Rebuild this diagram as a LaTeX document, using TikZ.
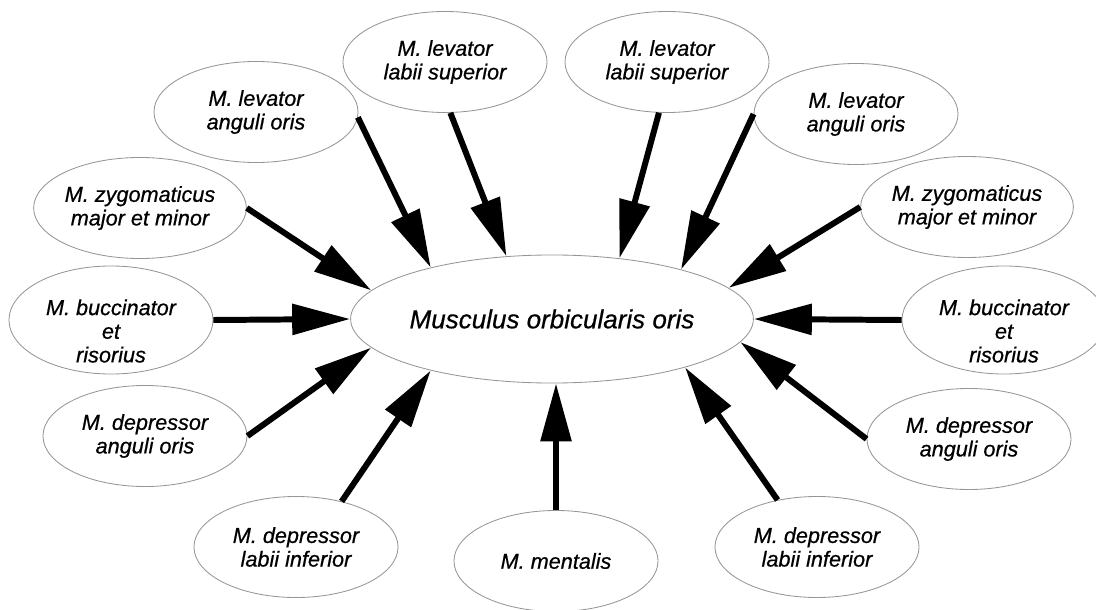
\documentclass[tikz,border=0pt]{standalone}
\usepackage{fontspec}
\setmainfont{Liberation Sans}[ItalicFeatures={FakeBold=0.6}]
\usetikzlibrary{shapes.geometric,arrows.meta}
\definecolor{elgray}{RGB}{150,150,150}
\begin{document}
\begin{tikzpicture}[x=0.025cm,y=-0.025cm,
  outer/.style={ellipse, draw=elgray, line width=0.6pt, fill=white,
    minimum width=5.1cm, minimum height=2.525cm, inner sep=0pt, align=center,
    font=\fontsize{15.4}{16.8}\selectfont\itshape},
  lbl/.style={inner sep=0pt, align=center, font=\fontsize{15.4}{16.8}\selectfont\itshape},
  central/.style={ellipse, draw=elgray, line width=0.6pt, fill=white,
    minimum width=9.65cm, minimum height=3.2cm, inner sep=0pt,
    font=\fontsize{18.5}{22}\selectfont\itshape},
  arr/.style={line width=4.25pt, -{Triangle[length=1.45cm,width=0.75cm]}}]
\useasboundingbox (0,0) rectangle (1096,610);

\node[central] (cen) at (552,319) {Musculus orbicularis oris};

\node[outer] (lsl) at (445,62) {M. levator\\labii superior};
\node[outer] (lal) at (256,112) {M. levator\\anguli oris};
\node[outer] (zyl) at (140,208) {M. zygomaticus\\major et minor};
\node[outer, minimum height=2.7cm] (bul) at (111,320) {};
\node[lbl] (bult) at (111,331) {M. buccinator\\et\\risorius};
\node[outer] (dal) at (145,436) {M. depressor\\anguli oris};
\node[outer] (dil) at (296,547) {M. depressor\\labii inferior};
\node[outer] (men) at (556,561) {M. mentalis};
\node[outer] (dir) at (817,547) {M. depressor\\labii inferior};
\node[outer] (dar) at (969,439) {M. depressor\\anguli oris};
\node[outer, minimum height=2.7cm] (bur) at (1004,320) {};
\node[lbl] (burt) at (1004,331) {M. buccinator\\et\\risorius};
\node[outer] (zyr) at (967,207) {M. zygomaticus\\major et minor};
\node[outer] (lar) at (856,114) {M. levator\\anguli oris};
\node[outer] (lsr) at (667,62) {M. levator\\labii superior};

\draw[arr] (lsl.-84) -- (cen.126.6);
\draw[arr] (lal.-3) -- (cen.157.5);
\draw[arr] (zyl.0) -- (cen.171.5);
\draw[arr] (bul.0) -- (cen.180);
\draw[arr] (dal.0) -- (cen.189.5);
\draw[arr] (dil.45) -- (cen.203.6);
\draw[arr] (men.north) -- (men.north |- cen.south);
\draw[arr] (dir.130.6) -- (cen.340.8);
\draw[arr] (dar.180) -- (cen.353.6);
\draw[arr] (bur.180) -- (cen.0);
\draw[arr] (zyr.180) -- (cen.10);
\draw[arr] (lar.180) -- (cen.21.3);
\draw[arr] (lsr.261.4) -- (cen.42.4);
\end{tikzpicture}
\end{document}
